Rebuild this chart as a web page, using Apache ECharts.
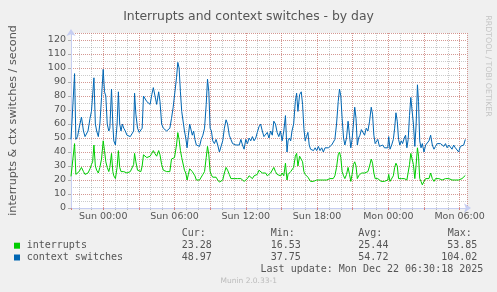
<!DOCTYPE html>
<html><head><meta charset="utf-8">
<script src="https://cdn.jsdelivr.net/npm/echarts@6/dist/echarts.min.js"></script>
<style>html,body{margin:0;padding:0;background:#F0F0F0}#c{width:497px;height:292px}</style>
</head><body><div id="c"></div>
<script>
// time in hours relative to Sun 00:00
const hours = [
-2.71,-2.58,-2.41,-2.30,-2.16,-2.03,-1.83,-1.66,-1.53,-1.39,-1.28,-1.11,-0.99,-0.89,-0.78,-0.66,-0.55,-0.41,-0.28,-0.14,
0.00,0.11,0.22,0.34,0.47,0.56,0.70,0.81,0.89,1.03,1.17,1.28,1.39,1.50,1.61,1.73,1.86,2.00,2.14,2.28,
2.42,2.56,2.64,2.75,2.89,3.03,3.17,3.28,3.39,3.53,3.67,3.81,3.95,4.09,4.22,4.34,4.50,4.67,4.78,4.92,
5.06,5.20,5.34,5.47,5.61,5.75,5.89,6.00,6.17,6.28,6.39,6.50,6.61,6.72,6.84,6.95,7.06,7.17,7.28,7.39,
7.50,7.61,7.72,7.84,7.97,8.11,8.25,8.39,8.53,8.67,8.78,8.89,9.00,9.11,9.22,9.36,9.50,9.64,9.78,9.92,
10.06,10.20,10.34,10.47,10.61,10.75,10.89,11.03,11.17,11.31,11.45,11.59,11.72,11.86,12.00,12.14,12.28,12.42,12.56,12.70,
12.84,12.97,13.11,13.25,13.39,13.53,13.67,13.81,13.95,14.09,
14.23,14.36,14.50,14.64,14.78,14.92,15.06,15.20,15.34,15.47,15.56,15.67,15.78,15.89,16.03,16.17,16.28,16.39,16.53,16.67,
16.78,16.89,17.00,17.11,17.23,17.34,17.45,17.56,17.70,17.84,17.97,18.11,18.25,18.39,18.53,18.67,18.81,18.95,19.09,19.23,
19.36,19.50,19.64,19.78,19.89,20.00,20.11,20.23,20.34,20.48,20.61,20.73,20.84,20.95,21.06,21.17,21.28,21.39,21.50,21.61,
21.73,21.86,22.00,22.14,22.28,22.42,22.56,22.67,22.78,22.89,23.00,23.11,23.25,23.39,23.53,23.67,23.81,23.95,24.03,24.14,
24.28,24.42,24.53,24.64,24.75,24.86,24.97,25.09,25.20,25.34,25.45,25.56,25.67,25.78,25.89,26.00,26.11,26.23,26.34,26.45,
26.54,26.64,26.75,26.86,27.00,27.14,27.28,27.42,27.56,27.70,27.84,27.97,28.11,28.25,28.39,28.53,28.67,28.81,28.95,29.09,
29.22,29.36,29.50,29.64,29.78,29.92,30.06,30.20,30.34,30.48
];
const ctxSwitches = [
49,50,96,49,51,57,65,55,51,52,55,64,69,70,93,60,55,51,60,79,
99,83,80,60,55,57,85,60,48,45,60,83,60,55,60,57,55,52,51,51,
50,55,82,67,57,54,54,57,80,79,76,75,74,81,86,85,74,83,76,60,
57,56,55,54,57,64,72,72,93,104,100,83,69,68,55,50,43,52,60,61,
52,55,49,45,46,44,49,52,57,74,92,83,57,55,48,46,49,45,40,40,
48,57,63,60,52,49,46,46,45,46,45,49,45,42,49,46,50,48,51,48,
50,54,58,60,55,51,50,54,50,55,
52,62,60,54,51,55,48,55,66,40,48,50,48,55,60,76,82,69,81,83,
74,57,48,51,54,45,42,43,41,43,41,44,41,43,40,43,42,43,44,45,
46,49,60,76,85,80,64,50,45,50,62,52,43,49,60,72,64,45,50,52,
56,55,52,57,55,62,72,67,52,46,45,49,44,43,45,43,42,43,51,42,
45,49,57,68,62,49,45,48,46,50,52,43,49,66,79,78,60,44,60,88,
76,48,43,46,40,45,44,48,52,45,42,44,46,45,46,45,44,46,43,45,
44,42,45,43,42,40,44,43,45,48.97
];
const interrupts = [
22.6,21.5,46,24,24,26,29,26,24,23.5,25,28,31,33,45,30,27,25,29,35,
48,41,33,29,26,29,39,26,23,21,29,41,29,26,27,26,26,25,25,26,
25,31,39,33,27,26,26,30,38,37,36,36,37,39,41,39,37,41,38,31,
27,26,26,26,26,35,36,36,45,53.85,49,41,36,35,27,25,20,24,28,29,
26,25,23,20,21,20,21,24,26,36,44,38,26,23.5,22,22,22,20,18.5,18,
20,25,29,27,24,21,20,21,20,21,21,21,20,19,20,21,23,24,21,23,
23,24,27,26,25,24,25,23,24,25,
26,29,26,24,25,23,25,23,32,20,24,25,26,26,29,37,39,30,37,38,
33,26,24,23,22,21,19,18,19,19,20,19,20,19,20,19,20,20,21,21,
21,23,29,38,40,36,26,23,21,24,29,24,19,24,31,33,30,21,23,24,
25,24,25,26,26,30,35,32,25,21,20,21,20,19,20,19,20,20,24,19,
20,23,29,32,30,21,20,21,20,21,21,20,21,31,39,39,31,21,31,43,
37,21,19,16.53,19,21,20,21,25,21,19,21,20,21,21,20,21,21,20,21,
21,20,21,20,21,20,21,21,22,23.28
];
const xTickHours = [0, 6, 12, 18, 24, 30];
const xTickLabels = ['Sun 00:00', 'Sun 06:00', 'Sun 12:00', 'Sun 18:00', 'Mon 00:00', 'Mon 06:00'];
const seriesNames = ['interrupts', 'context switches'];
const seriesColors = ['#00CC00', '#0066B3'];
const statHeaders = ['Cur:', 'Min:', 'Avg:', 'Max:'];
const statInterrupts = ['23.28', '16.53', '25.44', '53.85'];
const statCtx = ['48.97', '37.75', '54.72', '104.02'];
const titleText = 'Interrupts and context switches - by day';
const yName = 'interrupts & ctx switches / second';
const lastUpdate = 'Last update: Mon Dec 22 06:30:18 2025';
const versionText = 'Munin 2.0.33-1';
const watermark = 'RRDTOOL / TOBI OETIKER';

const TXT = '#555555';
const MAJOR = 'rgba(225,90,80,0.45)';
const MINOR = 'rgba(140,140,140,0.45)';
const AXIS = '#C6CEF2';
const MONO = "10px 'DejaVu Sans Mono'";
const X_MIN = -2.71, X_MAX = 30.62;

function txt(x, y, text, font, align, color) {
  return {type: 'text', x: x, y: y, silent: true,
    style: {text: text, font: font, fill: color || TXT, align: align || 'left', verticalAlign: 'middle'}};
}

const chart = echarts.init(document.getElementById('c'), null, {renderer: 'canvas'});
const graphics = [];
const rowsY = [245.7, 257.5];
const colX = [181.7, 270.7, 358.3];
graphics.push(txt(181.7, 233.7, statHeaders[0], MONO));
graphics.push(txt(270.7, 233.7, statHeaders[1], MONO));
graphics.push(txt(358.3, 233.7, statHeaders[2], MONO));
graphics.push(txt(447.7, 233.7, statHeaders[3], MONO));
[statInterrupts, statCtx].forEach(function (vals, r) {
  graphics.push({type: 'rect', silent: true, shape: {x: 14, y: rowsY[r] - 3, width: 6, height: 6}, style: {fill: seriesColors[r]}});
  graphics.push(txt(26.7, rowsY[r], seriesNames[r], MONO));
  for (let k = 0; k < 3; k++) graphics.push(txt(colX[k], rowsY[r], vals[k], MONO));
  graphics.push(txt(477.3, rowsY[r], vals[3], MONO, 'right'));
});
graphics.push(txt(483.3, 269.3, lastUpdate, MONO, 'right'));
graphics.push(txt(248.7, 281, versionText, "7.5px 'DejaVu Sans'", 'center', '#BBBBBB'));
graphics.push({type: 'text', x: 488, y: 66, rotation: -Math.PI / 2, silent: true,
  style: {text: watermark, font: "7.9px 'DejaVu Sans'", fill: '#C4C4C4', align: 'center', verticalAlign: 'middle'}});

const hidden = {show: false};
chart.setOption({
  animation: false,
  backgroundColor: '#F0F0F0',
  title: {text: titleText, left: 'center', top: 6,
    textStyle: {fontFamily: 'DejaVu Sans', fontSize: 12.4, fontWeight: 'normal', color: TXT}},
  grid: {left: 67, top: 33, width: 400, height: 175, show: true, backgroundColor: '#FFFFFF', borderWidth: 0, containLabel: false},
  xAxis: [{
    // hourly minor grid (grey)
    type: 'value', min: X_MIN, max: X_MAX, splitNumber: 33, position: 'bottom', z: 1,
    axisLine: {show: false, onZero: false},
    axisTick: {show: true, length: 2, lineStyle: {color: 'rgba(140,140,140,0.6)'}},
    axisLabel: hidden,
    splitLine: {show: true, lineStyle: {color: MINOR, type: [1, 1], width: 1}}
  }, {
    // 3-hourly major grid (red) with labels
    type: 'value', min: X_MIN, max: X_MAX, splitNumber: 11, position: 'bottom', z: 2,
    axisLine: {show: true, onZero: false, lineStyle: {color: AXIS, width: 1}, symbol: ['none', 'arrow'], symbolSize: [7, 7], symbolOffset: [0, 4]},
    axisTick: {show: true, length: 2, lineStyle: {color: 'rgba(225,90,80,0.6)'}},
    axisLabel: {color: TXT, fontFamily: 'DejaVu Sans', fontSize: 9.5, margin: 4,
      formatter: function (v) { const i = xTickHours.indexOf(Math.round(v * 100) / 100); return i >= 0 ? xTickLabels[i] : ''; }},
    splitLine: {show: true, lineStyle: {color: MAJOR, type: [1, 1], width: 1}}
  }],
  yAxis: [{
    type: 'value', min: 0, max: 125, interval: 5, z: 1,
    axisLine: {show: false, onZero: false}, axisTick: hidden, axisLabel: hidden,
    splitLine: {show: true, lineStyle: {color: MINOR, type: [1, 1], width: 1}}
  }, {
    type: 'value', min: 0, max: 125, interval: 10, position: 'left', z: 2,
    name: yName, nameLocation: 'middle', nameGap: 52,
    nameTextStyle: {fontFamily: 'DejaVu Sans', fontSize: 11.2, color: TXT},
    axisLine: {show: true, onZero: false, lineStyle: {color: AXIS, width: 1}, symbol: ['none', 'arrow'], symbolSize: [7, 7], symbolOffset: [0, 4]},
    axisTick: {show: true, length: 3, lineStyle: {color: '#B0B0B0'}},
    axisLabel: {color: TXT, fontFamily: 'DejaVu Sans', fontSize: 9.5, margin: 5, showMaxLabel: false,
      formatter: function (v) { return (v % 10 === 0 && v <= 120) ? String(v) : ''; }},
    splitLine: {show: true, lineStyle: {color: MAJOR, type: [1, 1], width: 1}}
  }],
  graphic: graphics,
  series: [
    {type: 'line', name: seriesNames[0], xAxisIndex: 1, yAxisIndex: 1,
      data: hours.map(function (h, i) { return [h, interrupts[i]]; }),
      showSymbol: false, symbol: 'none', lineStyle: {width: 1, color: seriesColors[0]}, itemStyle: {color: seriesColors[0]}, z: 3},
    {type: 'line', name: seriesNames[1], xAxisIndex: 1, yAxisIndex: 1,
      data: hours.map(function (h, i) { return [h, ctxSwitches[i]]; }),
      showSymbol: false, symbol: 'none', lineStyle: {width: 1, color: seriesColors[1]}, itemStyle: {color: seriesColors[1]}, z: 4}
  ]
});
</script>
</body></html>
